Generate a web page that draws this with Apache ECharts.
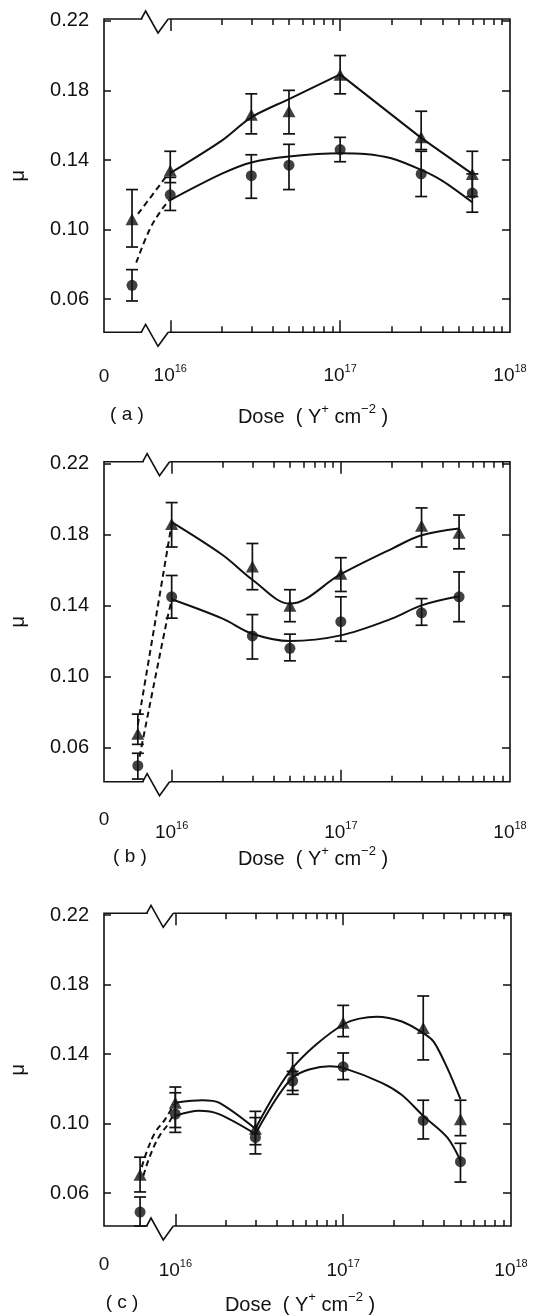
<!DOCTYPE html>
<html><head><meta charset="utf-8">
<script src="https://cdn.jsdelivr.net/npm/echarts@6/dist/echarts.min.js"></script>
<style>html,body{margin:0;padding:0;background:#fff}#c{width:535px;height:1315px}</style>
</head><body><div id="c"></div>
<script>
// ---------- axis ticks / labels ----------
const yTicks = [0.06, 0.10, 0.14, 0.18, 0.22];
const xMajorTicks = [16, 17];          // log10(dose) of 10^16, 10^17
const xLabelExps = [16, 17, 18];
const minorMultipliers = [2, 3, 4, 5, 6, 7, 8, 9];
const Y_MIN = 0.041, Y_MAX = 0.221;

// ---------- panel (a) ----------
const doseA   = [0, 1e16, 3e16, 5e16, 1e17, 3e17, 6e17];
const triA    = [0.106, 0.134, 0.166, 0.168, 0.189, 0.153, 0.132];
const triA_lo = [0.090, 0.127, 0.155, 0.155, 0.178, 0.146, 0.119];
const triA_hi = [0.123, 0.145, 0.178, 0.180, 0.200, 0.168, 0.145];
const cirA    = [0.068, 0.120, 0.131, 0.137, 0.146, 0.132, 0.121];
const cirA_lo = [0.059, 0.111, 0.118, 0.123, 0.139, 0.119, 0.110];
const cirA_hi = [0.077, 0.130, 0.143, 0.149, 0.153, 0.145, 0.132];
const triA_fit1 = [[16,0.1325],[16.301,0.151],[16.477,0.1645],[16.699,0.175],[17,0.1892]];
const triA_fit2 = [[17,0.1892],[17.477,0.1527],[17.778,0.132]];
const cirA_fit  = [[16,0.117],[16.301,0.132],[16.477,0.1386],[16.699,0.142],[17,0.1439],[17.146,0.1435],[17.301,0.141],[17.477,0.1343],[17.602,0.128],[17.778,0.1157]];
const triA_dash = [[15.81,0.109],[15.98,0.131]];
const cirA_dash = [[15.80,0.081],[15.88,0.1003],[15.95,0.1115],[15.995,0.117]];

// ---------- panel (b) ----------
const doseB   = [0, 1e16, 3e16, 5e16, 1e17, 3e17, 5e17];
const triB    = [0.068, 0.186, 0.162, 0.140, 0.158, 0.185, 0.181];
const triB_lo = [0.062, 0.173, 0.149, 0.131, 0.148, 0.173, 0.172];
const triB_hi = [0.079, 0.198, 0.175, 0.149, 0.167, 0.195, 0.191];
const cirB    = [0.050, 0.145, 0.123, 0.116, 0.131, 0.136, 0.145];
const cirB_lo = [0.0425, 0.133, 0.110, 0.109, 0.120, 0.129, 0.131];
const cirB_hi = [0.057, 0.157, 0.135, 0.124, 0.145, 0.144, 0.159];
const triB_fit = [[16,0.187],[16.301,0.1685],[16.477,0.1546],[16.699,0.1411],[17,0.1577],[17.301,0.172],[17.477,0.1796],[17.699,0.1834]];
const cirB_fit = [[16,0.1436],[16.301,0.1327],[16.477,0.1242],[16.699,0.1201],[17,0.1233],[17.301,0.1327],[17.477,0.1402],[17.699,0.1453]];
const triB_dash = [[15.80,0.073],[16.0,0.186]];
const cirB_dash = [[15.81,0.055],[15.97,0.131],[16.0,0.143]];

// ---------- panel (c) ----------
const doseC   = [0, 1e16, 3e16, 5e16, 1e17, 3e17, 5e17];
const triC    = [0.0705, 0.112, 0.097, 0.131, 0.158, 0.155, 0.1025];
const triC_lo = [0.0606, 0.0977, 0.0878, 0.119, 0.150, 0.1366, 0.093];
const triC_hi = [0.0806, 0.121, 0.107, 0.1406, 0.168, 0.1734, 0.1134];
const cirC    = [0.049, 0.1054, 0.092, 0.1244, 0.1326, 0.1018, 0.078];
const cirC_lo = [0.041, 0.0949, 0.0825, 0.1168, 0.1253, 0.0911, 0.0663];
const cirC_hi = [0.0577, 0.1177, 0.1034, 0.130, 0.1406, 0.1134, 0.0886];
const triC_fit1 = [[16,0.112],[16.16,0.1134],[16.26,0.112],[16.477,0.097]];
const triC_fit2 = [[16.477,0.097],[16.699,0.132],[17,0.157],[17.2,0.1615],[17.35,0.1587],[17.477,0.152],[17.54,0.147],[17.62,0.132],[17.699,0.114]];
const cirC_fit1 = [[16,0.1044],[16.14,0.1073],[16.26,0.1054],[16.477,0.094]];
const cirC_fit2 = [[16.477,0.094],[16.699,0.1263],[16.92,0.1329],[17,0.132],[17.23,0.1234],[17.35,0.1164],[17.477,0.1044],[17.62,0.092],[17.699,0.0787]];
const triC_dash = [[15.80,0.0749],[15.832,0.0844],[15.88,0.0949],[15.94,0.1025],[15.99,0.111]];
const cirC_dash = [[15.81,0.070],[15.846,0.0806],[15.90,0.092],[15.957,0.0997],[15.99,0.1054]];

const panelLabels = ['( a )', '( b )', '( c )'];

// ---------- layout ----------
const FONT = '"Liberation Sans", Arial, Helvetica, sans-serif';
const INK = '#111';
const GRIDS = [
  {left: 98.7, top: 19,    width: 411.3, height: 313.3},
  {left: 100,  top: 461.7, width: 410,   height: 320},
  {left: 101.5,top: 913.3, width: 409.5, height: 312.7}
];
const X_MIN = [15.61, 15.60, 15.575];
const X_MAX = 18.0;
const ZERO_POS = [15.775, 15.80, 15.79];   // axis position of the un-irradiated (dose 0) sample
const BREAK = [15.835, 15.855, 15.928, 15.988];
const LBL_MARGIN = [{ten: 31, zero: 35}, {ten: 39, zero: 29}, {ten: 32, zero: 29}];
const TEXT_Y = [415, 857, 1303];
const PLABEL_X = [127, 130, 122];
const DOSE_X = [313, 313, 300];

const panels = [
  {dose: doseA, tri: triA, triLo: triA_lo, triHi: triA_hi, cir: cirA, cirLo: cirA_lo, cirHi: cirA_hi,
   fits: [[triA_fit1, 0.3], [triA_fit2, 0], [cirA_fit, 0.3]], dashes: [triA_dash, cirA_dash]},
  {dose: doseB, tri: triB, triLo: triB_lo, triHi: triB_hi, cir: cirB, cirLo: cirB_lo, cirHi: cirB_hi,
   fits: [[triB_fit, 0.35], [cirB_fit, 0.35]], dashes: [triB_dash, cirB_dash]},
  {dose: doseC, tri: triC, triLo: triC_lo, triHi: triC_hi, cir: cirC, cirLo: cirC_lo, cirHi: cirC_hi,
   fits: [[triC_fit1, 0.3], [triC_fit2, 0.3], [cirC_fit1, 0.3], [cirC_fit2, 0.3]], dashes: [triC_dash, cirC_dash]}
];

function xpos(d, i) { return d === 0 ? ZERO_POS[i] : Math.log10(d); }
const minorTicks = [];
[16, 17].forEach(e => minorMultipliers.forEach(m => minorTicks.push(e + Math.log10(m))));

const tickStyle = {color: INK, width: 1.5};
const xAxes = [], yAxes = [], series = [];

panels.forEach((p, i) => {
  const base = {type: 'value', gridIndex: i, min: X_MIN[i], max: X_MAX,
    axisLine: {show: false}, splitLine: {show: false}};
  // bottom major: ticks + 10^n labels
  xAxes.push(Object.assign({}, base, {position: 'bottom',
    axisTick: {show: true, inside: true, length: 12, customValues: xMajorTicks, lineStyle: tickStyle},
    axisLabel: {show: true, customValues: xLabelExps, margin: LBL_MARGIN[i].ten,
      formatter: v => '{b|10}{s|' + Math.round(v) + '}',
      rich: {b: {fontSize: 19, fontFamily: FONT, color: INK, lineHeight: 22, verticalAlign: 'bottom'},
             s: {fontSize: 11, fontFamily: FONT, color: INK, lineHeight: 22, verticalAlign: 'top'}}}}));
  // bottom minor: ticks + "0" label
  xAxes.push(Object.assign({}, base, {position: 'bottom',
    axisTick: {show: true, inside: true, length: 6, customValues: minorTicks, lineStyle: tickStyle},
    axisLabel: {show: true, customValues: [X_MIN[i]], margin: LBL_MARGIN[i].zero,
      formatter: () => '0', fontSize: 19, fontFamily: FONT, color: INK}}));
  // top major / minor
  xAxes.push(Object.assign({}, base, {position: 'top',
    axisTick: {show: true, inside: true, length: 12, customValues: xMajorTicks, lineStyle: tickStyle},
    axisLabel: {show: false}}));
  xAxes.push(Object.assign({}, base, {position: 'top',
    axisTick: {show: true, inside: true, length: 6, customValues: minorTicks, lineStyle: tickStyle},
    axisLabel: {show: false}}));

  yAxes.push({type: 'value', gridIndex: i, position: 'left', min: Y_MIN, max: Y_MAX,
    axisLine: {show: false}, splitLine: {show: false},
    axisTick: {show: true, inside: true, length: 7, customValues: yTicks, lineStyle: tickStyle},
    axisLabel: {show: true, customValues: yTicks, margin: 15, formatter: v => v.toFixed(2),
      fontSize: 20, fontFamily: FONT, color: INK},
    name: 'μ', nameLocation: 'middle', nameRotate: 90, nameGap: 76,
    nameTextStyle: {fontSize: 20, fontFamily: FONT, color: INK}});
  yAxes.push({type: 'value', gridIndex: i, position: 'right', min: Y_MIN, max: Y_MAX,
    axisLine: {show: false}, splitLine: {show: false},
    axisTick: {show: true, inside: true, length: 8, customValues: yTicks, lineStyle: tickStyle},
    axisLabel: {show: false}});

  const xi = 4 * i, yi = 2 * i;
  const errSeries = (lo, hi) => ({
    type: 'custom', xAxisIndex: xi, yAxisIndex: yi, z: 3,
    data: p.dose.map((d, k) => [xpos(d, i), lo[k], hi[k]]),
    encode: {x: 0, y: [1, 2]},
    renderItem: (params, api) => {
      const x = api.value(0);
      const a = api.coord([x, api.value(2)]), b = api.coord([x, api.value(1)]);
      const w = 6, st = {stroke: INK, lineWidth: 1.7};
      return {type: 'group', children: [
        {type: 'line', shape: {x1: a[0], y1: a[1], x2: b[0], y2: b[1]}, style: st},
        {type: 'line', shape: {x1: a[0] - w, y1: a[1], x2: a[0] + w, y2: a[1]}, style: st},
        {type: 'line', shape: {x1: b[0] - w, y1: b[1], x2: b[0] + w, y2: b[1]}, style: st}]};
    }
  });
  series.push(errSeries(p.triLo, p.triHi));
  series.push(errSeries(p.cirLo, p.cirHi));
  p.fits.forEach(([pts, sm]) => series.push({type: 'line', xAxisIndex: xi, yAxisIndex: yi, z: 2,
    data: pts, smooth: sm, showSymbol: false, symbol: 'none',
    lineStyle: {color: INK, width: 2}}));
  p.dashes.forEach(pts => series.push({type: 'line', xAxisIndex: xi, yAxisIndex: yi, z: 2,
    data: pts, smooth: 0.4, showSymbol: false, symbol: 'none',
    lineStyle: {color: INK, width: 2, type: [6, 4]}}));
  series.push({type: 'scatter', xAxisIndex: xi, yAxisIndex: yi, z: 5, symbol: 'triangle', symbolSize: [13, 12],
    itemStyle: {color: INK}, data: p.dose.map((d, k) => [xpos(d, i), p.tri[k]])});
  series.push({type: 'scatter', xAxisIndex: xi, yAxisIndex: yi, z: 5, symbol: 'circle', symbolSize: 11,
    itemStyle: {color: INK}, data: p.dose.map((d, k) => [xpos(d, i), p.cir[k]])});
});

const chart = echarts.init(document.getElementById('c'), null, {renderer: 'canvas'});
chart.setOption({
  animation: false, backgroundColor: '#fff',
  grid: GRIDS.map(g => Object.assign({show: true, borderColor: INK, borderWidth: 1.6, backgroundColor: 'transparent'}, g)),
  xAxis: xAxes, yAxis: yAxes, series: series
});

// axis-break marks and panel texts
const els = [];
for (let i = 0; i < 3; i++) {
  const yTop = chart.convertToPixel({gridIndex: i}, [16, Y_MAX])[1];
  const yBot = chart.convertToPixel({gridIndex: i}, [16, Y_MIN])[1];
  const xs = BREAK.map(v => chart.convertToPixel({gridIndex: i}, [v, Y_MIN])[0]);
  [yTop, yBot].forEach(yE => {
    els.push({type: 'rect', z: 100, shape: {x: xs[0], y: yE - 3, width: xs[3] - xs[0], height: 6}, style: {fill: '#fff'}});
    els.push({type: 'polyline', z: 101, shape: {points: [[xs[0] - 1, yE], [xs[1], yE - 8], [xs[2], yE + 14], [xs[3], yE]]},
      style: {stroke: INK, lineWidth: 1.6, fill: null}});
  });
  els.push({type: 'text', z: 101, x: PLABEL_X[i], y: TEXT_Y[i],
    style: {text: panelLabels[i], fontSize: 19, fontFamily: FONT, fill: INK, align: 'center', verticalAlign: 'middle',
            textAlign: 'center', textVerticalAlign: 'middle'}});
  els.push({type: 'text', z: 101, x: DOSE_X[i], y: TEXT_Y[i],
    style: {text: '{m|Dose  ( Y}{s|+}{m| cm}{s|−2}{m| )}', fill: INK, align: 'center', verticalAlign: 'middle',
            textAlign: 'center', textVerticalAlign: 'middle',
            rich: {m: {fontSize: 20, fontFamily: FONT, fill: INK, lineHeight: 24, verticalAlign: 'bottom'},
                   s: {fontSize: 13, fontFamily: FONT, fill: INK, lineHeight: 24, verticalAlign: 'top'}}}});
}
chart.setOption({graphic: {elements: els}});
</script></body></html>
